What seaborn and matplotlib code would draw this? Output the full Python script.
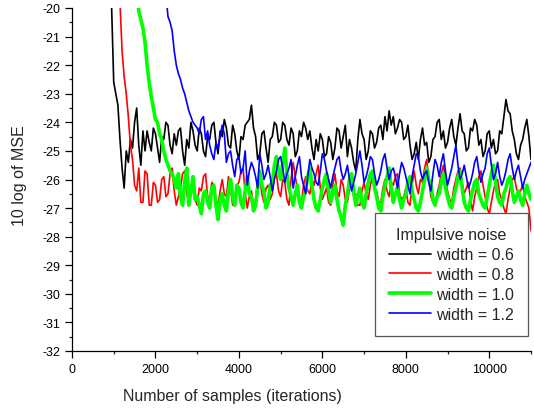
import numpy as np
import pandas as pd
import matplotlib
matplotlib.use("Agg")
import matplotlib.pyplot as plt
import seaborn as sns
from matplotlib.ticker import MultipleLocator

step = 50
black_start, red_start, green_start, blue_start = 800, 1100, 1500, 2200

black_vals = [
    -16.0, -17.2, -18.5, -20.0, -22.6, -23.0, -23.4, -24.6, -25.6, -26.3,
    -25.0, -25.4, -24.6, -24.9, -24.0, -23.5, -24.8, -25.5, -24.3, -25.0,
    -24.3, -24.7, -25.0, -24.2, -24.4, -24.9, -25.4, -24.5, -24.6, -24.0,
    -24.1, -24.8, -25.1, -24.4, -24.8, -24.3, -24.2, -25.0, -25.5, -24.6,
    -24.9, -24.0, -24.3, -24.8, -25.0, -24.2, -24.4, -25.0, -25.2, -24.5,
    -24.6, -24.1, -24.0, -24.7, -25.1, -24.3, -24.5, -23.9, -24.2, -24.8,
    -24.9, -24.1, -24.4, -25.0, -25.3, -24.5, -24.6, -24.1, -24.0, -23.9,
    -23.4, -24.2, -24.5, -25.3, -25.1, -24.4, -24.3, -24.9, -25.4, -24.6,
    -24.5, -24.0, -24.1, -24.7, -24.6, -24.0, -24.1, -24.6, -24.8, -24.2,
    -24.4, -25.2, -25.0, -24.3, -24.5, -24.0, -24.2, -24.6, -24.3, -24.9,
    -25.3, -24.6, -25.0, -24.4, -24.6, -25.2, -25.1, -24.5, -24.7, -25.3,
    -24.9, -24.2, -24.3, -24.9, -24.5, -24.1, -25.2, -24.6, -24.9, -25.4,
    -25.7, -24.6, -23.9, -24.4, -24.6, -25.3, -25.0, -24.3, -24.4, -24.9,
    -24.7, -24.2, -24.1, -24.6, -23.8, -24.3, -23.6, -24.1, -23.8, -24.4,
    -24.2, -23.9, -24.0, -24.6, -24.5, -24.1, -24.8, -25.3, -25.1, -24.7,
    -25.3, -24.6, -24.2, -24.8, -24.7, -25.4, -25.2, -24.6, -24.5, -24.0,
    -23.9, -24.6, -24.3, -24.9, -24.7, -24.2, -23.9, -24.5, -24.8, -24.2,
    -23.7, -24.3, -24.4, -25.0, -24.9, -24.2, -24.3, -23.9, -24.1, -24.8,
    -24.6, -25.2, -25.0, -24.4, -24.3, -24.9, -24.6, -25.1, -25.0, -24.3,
    -24.4, -23.8, -23.2, -23.6, -23.7, -24.3, -24.6, -25.1, -25.3, -24.8,
    -24.6, -24.2, -23.9, -24.5, -25.3]

red_vals = [
    -18.0, -19.8, -21.5, -22.4, -23.0, -23.8, -24.8, -25.3, -26.2, -26.4,
    -25.6, -26.8, -26.8, -25.7, -25.8, -26.9, -26.9, -26.1, -26.2, -26.8,
    -26.7, -26.0, -25.9, -26.6, -26.5, -25.8, -25.6, -26.4, -26.9, -26.6,
    -26.3, -25.8, -25.7, -26.5, -26.8, -26.2, -26.1, -26.7, -26.9, -26.3,
    -26.4, -25.9, -25.8, -26.6, -26.7, -26.1, -26.2, -26.7, -26.9, -26.4,
    -26.0, -26.5, -26.6, -25.9, -26.3, -26.9, -26.8, -26.2, -26.1, -25.7,
    -25.6, -26.5, -27.0, -26.6, -26.4, -26.9, -26.7, -26.0, -25.9, -26.5,
    -26.8, -26.3, -26.2, -26.7, -26.5, -25.9, -25.8, -26.4, -26.6, -26.0,
    -26.1, -26.7, -26.9, -26.0, -25.4, -25.9, -26.3, -26.7, -26.8, -26.2,
    -25.9, -26.4, -26.5, -26.0, -26.2, -25.8, -25.5, -26.3, -26.7, -26.5,
    -26.3, -26.8, -26.9, -26.2, -25.8, -26.4, -26.6, -26.0, -26.2, -26.7,
    -26.8, -26.3, -26.0, -26.6, -26.5, -26.9, -26.9, -26.4, -26.1, -26.5,
    -26.7, -26.2, -25.9, -26.3, -26.4, -26.8, -26.8, -26.3, -26.0, -26.4,
    -26.6, -26.1, -26.2, -25.9, -25.8, -26.5, -26.7, -26.6, -26.3, -26.8,
    -26.9, -26.2, -25.7, -26.2, -26.5, -26.0, -26.1, -25.6, -25.3, -26.0,
    -26.6, -26.8, -26.9, -26.5, -26.2, -25.8, -25.5, -26.0, -26.4, -26.7,
    -26.8, -26.3, -26.0, -25.7, -25.6, -26.1, -26.5, -26.3, -26.1, -26.7,
    -27.1, -26.6, -26.3, -25.9, -25.7, -26.2, -26.6, -27.0, -27.2, -26.8,
    -26.4, -26.1, -26.0, -26.5, -26.7, -27.0, -27.2, -26.7, -26.3, -26.0,
    -25.9, -26.3, -26.5, -26.4, -26.2, -26.6, -26.8, -27.0, -27.8]

green_vals = [
    -18.5, -19.3, -20.1, -20.4, -20.7, -21.2, -22.0, -22.6, -23.1, -23.5,
    -23.9, -24.0, -24.4, -24.6, -25.0, -25.3, -25.5, -25.7, -25.8, -26.0,
    -26.3, -25.8, -26.6, -26.9, -26.1, -25.6, -26.9, -26.4, -25.9, -26.7,
    -26.6, -26.9, -27.2, -26.5, -26.4, -26.8, -27.0, -26.3, -26.2, -26.9,
    -27.4, -26.7, -26.5, -26.9, -27.1, -26.4, -26.0, -26.6, -26.9, -26.2,
    -26.3, -26.8, -27.0, -26.4, -25.9, -26.5, -26.6, -27.1, -26.9, -26.3,
    -25.7, -26.2, -26.4, -27.0, -26.8, -26.2, -26.1, -25.5, -25.2, -25.7,
    -26.0, -25.4, -24.9, -25.8, -26.3, -26.6, -26.9, -26.5, -26.2, -26.8,
    -27.0, -26.6, -26.4, -25.9, -25.6, -26.2, -26.7, -27.0, -27.1, -26.7,
    -26.3, -26.0, -25.8, -26.4, -26.8, -26.5, -26.2, -26.7, -27.1, -27.3,
    -27.6, -26.9, -26.5, -26.0, -25.8, -26.4, -26.9, -26.6, -26.3, -26.8,
    -27.0, -26.5, -26.1, -25.8, -25.7, -26.3, -26.6, -27.0, -27.1, -26.6,
    -26.2, -25.9, -25.6, -26.3, -26.8, -26.5, -26.3, -26.7, -27.0, -26.7,
    -26.5, -26.1, -25.9, -26.4, -26.7, -27.0, -27.1, -26.8, -26.4, -26.0,
    -25.6, -26.0, -26.2, -26.7, -26.9, -26.6, -26.5, -26.1, -25.8, -26.3,
    -26.6, -26.9, -27.0, -26.6, -26.3, -25.9, -25.7, -26.3, -26.8, -27.0,
    -27.1, -26.7, -26.4, -26.1, -26.0, -26.5, -26.7, -26.9, -27.0, -26.6,
    -26.2, -25.8, -25.5, -26.1, -26.6, -26.8, -26.9, -26.5, -26.3, -26.0,
    -25.9, -26.4, -26.8, -26.6, -26.4, -26.7, -26.9, -26.5, -26.2, -26.5,
    -26.7]

blue_vals = [
    -18.6, -19.5, -20.3, -20.5, -20.8, -21.5, -22.0, -22.3, -22.5, -22.8,
    -23.0, -23.3, -23.6, -23.8, -24.0, -24.1, -24.2, -24.4, -23.9, -23.8,
    -24.6, -24.3, -24.8, -25.1, -25.3, -24.7, -24.9, -24.5, -24.1, -24.4,
    -25.4, -25.1, -25.0, -25.5, -25.9, -25.3, -25.2, -25.8, -25.6, -25.0,
    -26.2, -25.7, -25.4, -25.6, -25.9, -26.3, -25.1, -25.5, -26.0, -25.8,
    -25.5, -25.9, -26.4, -26.0, -25.7, -25.3, -25.2, -25.6, -26.1, -25.8,
    -25.6, -25.3, -26.3, -25.9, -25.5, -25.2, -25.9, -26.2, -26.5, -25.9,
    -25.3, -25.6, -25.8, -26.1, -26.2, -25.7, -25.1, -25.3, -25.7, -26.0,
    -26.3, -25.9, -25.6, -25.3, -25.2, -25.7, -26.0, -25.8, -25.5, -26.0,
    -26.4, -26.1, -25.8, -25.4, -25.0, -25.5, -26.1, -25.9, -25.6, -25.2,
    -25.3, -25.8, -26.2, -26.0, -25.7, -25.3, -25.1, -25.6, -26.0, -25.7,
    -25.6, -25.9, -26.3, -25.8, -25.4, -25.6, -25.9, -26.2, -26.5, -25.9,
    -25.5, -25.1, -25.2, -25.7, -26.0, -25.8, -25.7, -26.1, -26.4, -25.8,
    -25.3, -25.5, -25.9, -25.4, -25.1, -25.7, -26.2, -25.9, -25.6, -25.2,
    -24.8, -25.5, -26.0, -25.8, -25.5, -25.9, -26.3, -26.1, -25.8, -25.4,
    -25.2, -25.7, -26.1, -25.8, -25.6, -25.1, -24.9, -25.5, -26.0, -25.8,
    -25.4, -25.9, -26.2, -26.0, -25.7, -25.3, -25.1, -25.6, -26.0, -25.7,
    -25.5, -25.9, -26.3, -26.0, -25.8, -25.6, -25.4]

labels = ["width = 0.6", "width = 0.8", "width = 1.0", "width = 1.2"]
colors = ["#000000", "#ff0000", "#00ff00", "#0000ff"]
widths = [1.2, 1.2, 2.6, 1.2]

series = [(black_start, black_vals), (red_start, red_vals),
          (green_start, green_vals), (blue_start, blue_vals)]

frames = []
for lab, (start, vals) in zip(labels, series):
    x = np.arange(len(vals)) * step + start
    frames.append(pd.DataFrame({"samples": x, "mse": vals, "series": lab}))
df = pd.concat(frames, ignore_index=True)

sns.set_style("ticks")
plt.rcParams["font.family"] = ["Liberation Sans", "DejaVu Sans"]
plt.rcParams["axes.unicode_minus"] = False

fig = plt.figure(figsize=(5.34, 4.10), dpi=100)
ax = fig.add_axes([72/534, 1-352/410, (531-72)/534, (352-9)/410])

for lab, col, lw in zip(labels, colors, widths):
    sns.lineplot(data=df[df["series"] == lab], x="samples", y="mse",
                 color=col, linewidth=lw, label=lab, ax=ax, estimator=None)

ax.set_xlim(0, 11000)
ax.set_ylim(-32, -20)
ax.xaxis.set_major_locator(MultipleLocator(2000))
ax.xaxis.set_minor_locator(MultipleLocator(1000))
ax.yaxis.set_major_locator(MultipleLocator(1))
ax.yaxis.set_minor_locator(MultipleLocator(0.5))
ax.tick_params(which="major", direction="out", length=5, width=0.9, labelsize=9, colors="black")
ax.tick_params(which="minor", direction="out", length=2.5, width=0.9)
for s in ["top", "right"]:
    ax.spines[s].set_visible(False)
for s in ["left", "bottom"]:
    ax.spines[s].set_color("black")
    ax.spines[s].set_linewidth(0.9)

ax.set_xlabel("Number of samples (iterations)", fontsize=11.5)
ax.set_ylabel("10 log of MSE", fontsize=11.5)
ax.xaxis.set_label_coords((232-72)/459, (352-397)/343)
ax.yaxis.set_label_coords((20-72)/459, (352-176)/343)
ax.xaxis.label.set_va("center")
ax.yaxis.label.set_va("center")

leg = ax.legend(title="Impulsive noise", loc="lower right",
                bbox_to_anchor=((528-72)/459, (352-337)/343), borderaxespad=0,
                fontsize=11.5, title_fontsize=11.5,
                frameon=True, fancybox=False, handlelength=2.6, handletextpad=0.3,
                borderpad=0.9, labelspacing=0.3, framealpha=1)
leg.get_frame().set_edgecolor("#555555")
leg.get_frame().set_linewidth(0.9)

fig.savefig("out.png", dpi=100)
